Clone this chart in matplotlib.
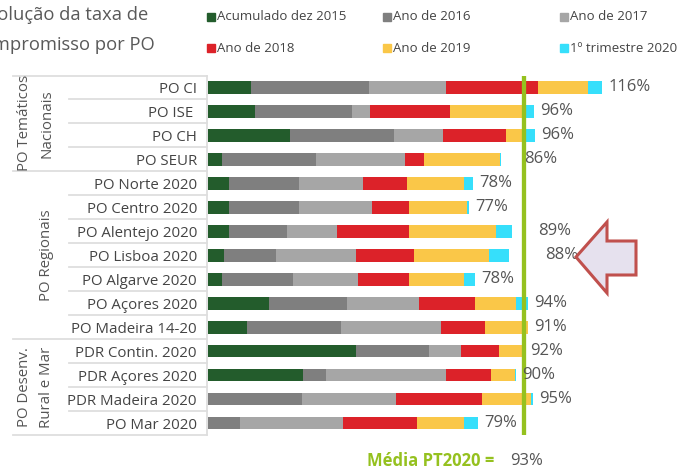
import matplotlib
matplotlib.use("Agg")
import matplotlib.pyplot as plt
import matplotlib.transforms as mtransforms
from matplotlib.patches import Rectangle, Polygon
from matplotlib.lines import Line2D

plt.rcParams['font.family'] = ['Open Sans', 'DejaVu Sans']

# ---------------- data ----------------
programs = ["PO CI", "PO ISE ", "PO CH", "PO SEUR", "PO Norte 2020", "PO Centro 2020",
            "PO Alentejo 2020", "PO Lisboa 2020", "PO Algarve 2020", "PO Açores 2020",
            "PO Madeira 14-20", "PDR Contin. 2020", "PDR Açores 2020", "PDR Madeira 2020",
            "PO Mar 2020"]
series_names = ["Acumulado dez 2015", "Ano de 2016", "Ano de 2017",
                "Ano de 2018", "Ano de 2019", "1º trimestre 2020"]
acum_2015 = [12.7, 13.8, 24.3, 4.1, 6.1, 6.3, 6.1, 4.6, 4.0, 18.0, 11.6, 43.5, 28.1, 0.0, 0.0]
ano_2016  = [34.7, 28.7, 30.4, 27.6, 20.6, 20.5, 17.1, 15.5, 21.1, 22.8, 27.7, 21.5, 6.7, 27.6, 9.4]
ano_2017  = [22.8, 5.2, 14.6, 26.3, 19.0, 21.6, 14.8, 23.5, 19.0, 21.5, 29.4, 9.6, 35.4, 27.7, 30.5]
ano_2018  = [26.9, 23.7, 18.6, 5.5, 12.8, 10.8, 21.1, 17.1, 15.0, 16.4, 13.0, 11.2, 13.1, 25.3, 21.7]
ano_2019  = [14.7, 21.8, 5.9, 22.6, 16.8, 17.2, 25.8, 22.1, 16.4, 12.1, 12.6, 7.0, 7.0, 14.6, 13.7]
trim_2020 = [4.3, 2.7, 2.4, 0.3, 2.8, 0.5, 4.7, 6.0, 3.2, 3.5, 0.0, 0.3, 0.3, 0.4, 4.1]
total_labels = ["116%", "96%", "96%", "86%", "78%", "77%", "89%", "88%", "78%",
                "94%", "91%", "92%", "90%", "95%", "79%"]
groups = ["PO Temáticos\nNacionais", "PO Regionais", "PO Desenv.\nRural e Mar"]
group_rows = [(0, 3), (4, 10), (11, 14)]
media_value = 93

# ---------------- style ----------------
colors = ["#235c2c", "#7f7f7f", "#a6a6a6", "#dc2229", "#fac748", "#36dffb"]
W, H = 688, 474
def fx(px): return px / W
def fy(py): return 1 - py / H

fig = plt.figure(figsize=(W / 100, H / 100), dpi=100)
x0_px, top_px, bot_px = 208, 75.5, 435
px_per_unit = 315.7 / 93.0
ax = fig.add_axes([fx(x0_px), fy(bot_px), (W - x0_px) / W, (bot_px - top_px) / H])
ax.set_xlim(0, (W - x0_px) / px_per_unit)
n = len(programs)
ax.set_ylim(n - 0.5, -0.5)
for s in ax.spines.values():
    s.set_visible(False)
ax.set_xticks([])

series = [acum_2015, ano_2016, ano_2017, ano_2018, ano_2019, trim_2020]
left = [0.0] * n
ypos = list(range(n))
for vals, c in zip(series, colors):
    ax.barh(ypos, vals, left=left, height=0.53, color=c, edgecolor='none', zorder=2)
    left = [l + v for l, v in zip(left, vals)]

# value labels
extra_pad = {3: 12, 6: 14, 7: 21}
for i, (tot, lab) in enumerate(zip(left, total_labels)):
    ax.annotate(lab, xy=(tot, i), xytext=(4.5 + extra_pad.get(i, 0), 0),
                textcoords='offset points', va='center', ha='left',
                fontsize=12, color='#555555', zorder=4)

# average line
ax.axvline(media_value, color='#95c11f', lw=3.1, zorder=3)

# row labels
ax.set_yticks(ypos)
ax.set_yticklabels(programs, fontsize=10.8, color='#444444')
ax.tick_params(axis='y', length=0, pad=8)

# table lines
bt = mtransforms.blended_transform_factory(fig.transFigure, ax.transData)
line_c = '#dedede'
long_bounds = {-0.5, 3.5, 10.5, 14.5}
for b in [k - 0.5 for k in range(n + 1)]:
    xs = fx(13) if b in long_bounds else fx(69)
    ax.add_line(Line2D([xs, fx(207)], [b, b], transform=bt, color=line_c,
                       lw=1.3, clip_on=False, zorder=1))
ax.add_line(Line2D([fx(207), fx(207)], [-0.5, n - 0.5], transform=bt, color=line_c,
                   lw=1.3, clip_on=False, zorder=1))

# group labels
for g, (a, b) in zip(groups, group_rows):
    yc = (a + b) / 2
    parts = g.split("\n")
    xs = [25, 47] if len(parts) == 2 else [47]
    for p, xp in zip(parts, xs):
        ax.text(fx(xp), yc, p, transform=bt, rotation=90, ha='center', va='center',
                fontsize=10.8, color='#555555')

# title (cut off at left, as in the reference)
fig.text(fx(148), fy(15), "Evolução da taxa de", ha='right', va='center',
         fontsize=13.2, color='#595959')
fig.text(fx(155), fy(45), "compromisso por PO", ha='right', va='center',
         fontsize=13.2, color='#595959')

# legend
leg_x = [207, 383, 560]
leg_y = [17, 48]
for k, (name, c) in enumerate(zip(series_names, colors)):
    col, row = k % 3, k // 3
    mx, my = leg_x[col], leg_y[row]
    fig.patches.append(Rectangle((fx(mx), fy(my + 3.7)), 7.5 / W, 7.5 / H,
                                 transform=fig.transFigure, color=c))
    fig.text(fx(mx + 10), fy(my), name, ha='left', va='center',
             fontsize=9.5, color='#444444')

# media text
fig.text(fx(367), fy(461), "Média PT2020 =", ha='left', va='center',
         fontsize=12, color='#95c11f', fontweight='bold')
fig.text(fx(510), fy(461), f"{media_value}%", ha='left', va='center',
         fontsize=12, color='#555555')

# arrow
pts = [(576, 257), (607, 222), (607, 241), (636, 241), (636, 275), (607, 275), (607, 293)]
fig.patches.append(Polygon([(fx(a), fy(b)) for a, b in pts], closed=True,
                           transform=fig.transFigure, facecolor='#e6e1ee',
                           edgecolor='#c0504d', lw=2.2))

fig.savefig("out.png", dpi=100)
